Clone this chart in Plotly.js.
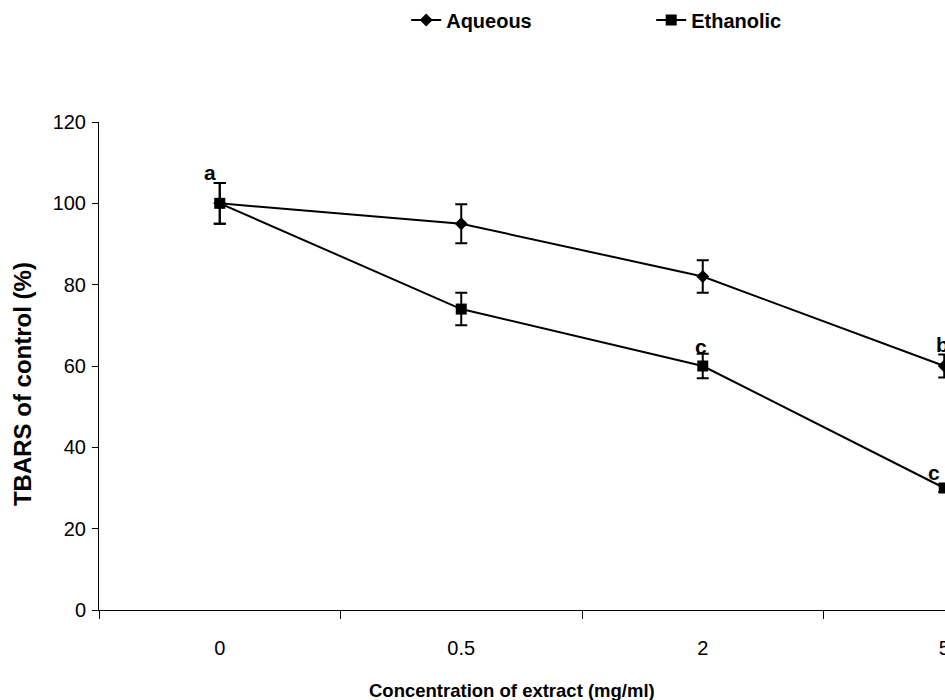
<!DOCTYPE html>
<html>
<head>
<meta charset="utf-8">
<script src="https://cdn.plot.ly/plotly-3.0.1.min.js"></script>
<style>
html,body{margin:0;padding:0;overflow:hidden;background:#fff;}
#chart{width:1100px;height:700px;}
</style>
</head>
<body>
<div id="chart"></div>
<script>
const categories = ["0", "0.5", "2", "5"];
const aqueous = [100, 95, 82, 60];
const aqueousErr = [5, 4.8, 4, 2.8];
const ethanolic = [100, 74, 60, 30];
const ethanolicErr = [5, 4, 3, 1];
const letterLabels = ["a", "c", "b", "c"];
const letterCat = ["0", "2", "5", "5"];
const letterY = [107.5, 64.7, 65.2, 33.7];
const letterShift = [-10, -2, -2, -10];
const xTitle = "Concentration of extract (mg/ml)";
const yTitle = "TBARS of control (%)";

const font = "Liberation Sans, Arial, sans-serif";

const traces = [
  {
    name: "Aqueous", x: categories, y: aqueous, type: "scatter", mode: "lines+markers",
    line: {color: "#000", width: 2},
    marker: {symbol: "diamond", size: 10, color: "#000"},
    error_y: {type: "data", array: aqueousErr, visible: true, color: "#000", thickness: 2, width: 6}
  },
  {
    name: "Ethanolic", x: categories, y: ethanolic, type: "scatter", mode: "lines+markers",
    line: {color: "#000", width: 2},
    marker: {symbol: "square", size: 11, color: "#000"},
    error_y: {type: "data", array: ethanolicErr, visible: true, color: "#000", thickness: 2, width: 6}
  }
];

const annotations = letterLabels.map((t, i) => ({
  x: categories.indexOf(letterCat[i]), y: letterY[i], xref: "x", yref: "y", text: t, showarrow: false,
  xshift: letterShift[i], font: {family: font, size: 21, color: "#000", weight: "bold"}
}));
annotations.push({
  x: 0.4275, y: -0.164, xref: "paper", yref: "paper", xanchor: "center", yanchor: "middle",
  text: xTitle, showarrow: false, font: {family: font, size: 18.5, color: "#000", weight: "bold"}
});
annotations.push({
  x: -0.0797, y: 0.463, xref: "paper", yref: "paper", xanchor: "center", yanchor: "middle",
  text: yTitle, textangle: -90, showarrow: false, font: {family: font, size: 24, color: "#000", weight: "bold"}
});

const layout = {
  width: 1100, height: 700,
  margin: {l: 99, r: 35, t: 122, b: 90, autoexpand: false},
  paper_bgcolor: "#fff", plot_bgcolor: "#fff",
  font: {family: font, color: "#000", size: 17},
  showlegend: true,
  legend: {
    orientation: "h", x: 0.318, xanchor: "left", y: 1.209, yanchor: "middle",
    font: {family: font, size: 20, color: "#000", weight: "bold"},
    entrywidth: 200, itemwidth: 30, bgcolor: "rgba(0,0,0,0)"
  },
  xaxis: {
    type: "category", range: [-0.5, 3.5], tickson: "boundaries",
    showline: true, linecolor: "#000", linewidth: 1,
    ticks: "outside", ticklen: 8, tickcolor: "#000", tickwidth: 1,
    showgrid: false, zeroline: false, automargin: false,
    ticklabelstandoff: 20,
    tickfont: {family: font, size: 20, color: "#000"}
  },
  yaxis: {
    range: [0, 120], dtick: 20, tick0: 0,
    showline: true, linecolor: "#000", linewidth: 1,
    ticks: "outside", ticklen: 6, tickcolor: "#000", tickwidth: 1,
    showgrid: false, zeroline: false, automargin: false,
    ticklabelstandoff: 2,
    tickfont: {family: font, size: 20, color: "#000"}
  },
  annotations: annotations
};

Plotly.newPlot("chart", traces, layout, {displayModeBar: false, staticPlot: true});
</script>
</body>
</html>
